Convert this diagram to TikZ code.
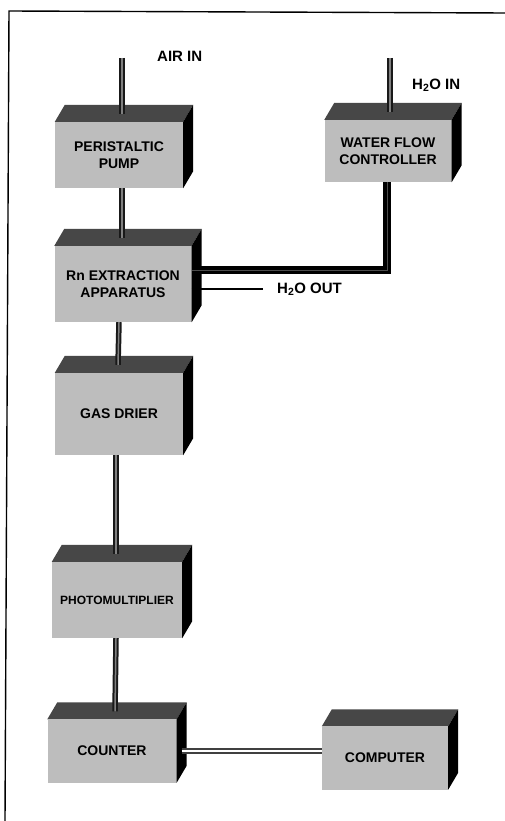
\documentclass[tikz,border=0pt]{standalone}
\usepackage{fontspec}
\setmainfont{Liberation Sans}
\usetikzlibrary{calc}

\tikzset{
    unit/.style={fill=black!26, inner sep=0pt, align=center,
        font=\fontsize{14}{16.5}\selectfont\bfseries},
    pipe/.style={line width=2pt, draw=black!90, double=black!50, double distance=1.5pt},
    waterpipe/.style={line width=3.2pt, draw=black, double=black!70, double distance=0.8pt},
    drain/.style={line width=2.8pt, draw=black},
    datalink/.style={line width=1.4pt, draw=black!75, double=white, double distance=2.4pt},
    tag/.style={inner sep=0pt, font=\fontsize{15}{17}\selectfont\bfseries}
}

%% top and right side of a box, drawn on its front face node
\newcommand{\boxsides}[1]{
    \fill[black!72] (#1.north west) -- ++(10,-17) -- ($(#1.north east)+(10,-17)$) -- (#1.north east) -- cycle;
    \fill[black] (#1.north east) -- ++(10,-17) -- ($(#1.south east)+(10,-17)$) -- (#1.south east) -- cycle;
}

\begin{document}
\begin{tikzpicture}[x=1pt, y=-1pt]
                \useasboundingbox[fill=white] (0, 0) rectangle (505, 821);
                \draw[line width=1.4pt](505, 13) to (9, 11) to (5, 821);

                %%boxes
                \node[unit, minimum width=128, minimum height=66] (pump) at (119, 155){PERISTALTIC\\PUMP};
                \node[unit, minimum width=127, minimum height=62] (wfc) at (388, 151){WATER FLOW\\CONTROLLER};
                \node[unit, minimum width=137, minimum height=76] (rn) at (123, 284){Rn EXTRACTION\\APPARATUS};
                \node[unit, minimum width=128, minimum height=82] (drier) at (119, 414){GAS DRIER};
                \node[unit, minimum width=130, minimum height=76] (pmt) at (117, 600){\fontsize{12}{14}\selectfont PHOTOMULTIPLIER};
                \node[unit, minimum width=129, minimum height=63] (counter) at (112, 751){COUNTER};
                \node[unit, minimum width=126, minimum height=63] (computer) at (385, 758){COMPUTER};
                    \boxsides{pump}
                    \boxsides{wfc}
                    \boxsides{rn}
                    \boxsides{drier}
                    \boxsides{pmt}
                    \boxsides{counter}
                    \boxsides{computer}

                %%inlets
                \coordinate (airtop) at (122, 58);
                \coordinate (watertop) at (390, 58);
                \node[tag, anchor=west] (airin) at (157, 56){AIR IN};
                \node[tag, anchor=west] (waterin) at (412, 85){H\textsubscript{2}O IN};
                \draw[pipe](airtop) to ($(pump.north)+(3, -8)$);
                \draw[pipe](watertop) to ($(wfc.north)+(2, -8)$);

                %%air line
                \draw[pipe]([xshift=3pt]pump.south) to ($(rn.north)+(-1, -8)$);
                \draw[pipe]([xshift=-4pt]rn.south) to ($(drier.north)+(-1, -8)$);
                \draw[pipe]([xshift=-3pt]drier.south) to ($(pmt.north)+(-1, -8)$);
                \draw[pipe]([xshift=-1pt]pmt.south) to ($(counter.north)+(3, -8)$);

                %%water
                \draw[waterpipe]([xshift=-1pt]wfc.south) |- ([yshift=14pt]rn.east);
                \coordinate (drainend) at (263, 289);
                \draw[drain]([yshift=-5pt]rn.east) to (drainend);
                \node[tag, anchor=west] (waterout) at (277, 289){H\textsubscript{2}O OUT};

                %%data
                \draw[datalink]([xshift=5pt]counter.east) to (counter.east -| computer.west);
            \end{tikzpicture}
\end{document}
